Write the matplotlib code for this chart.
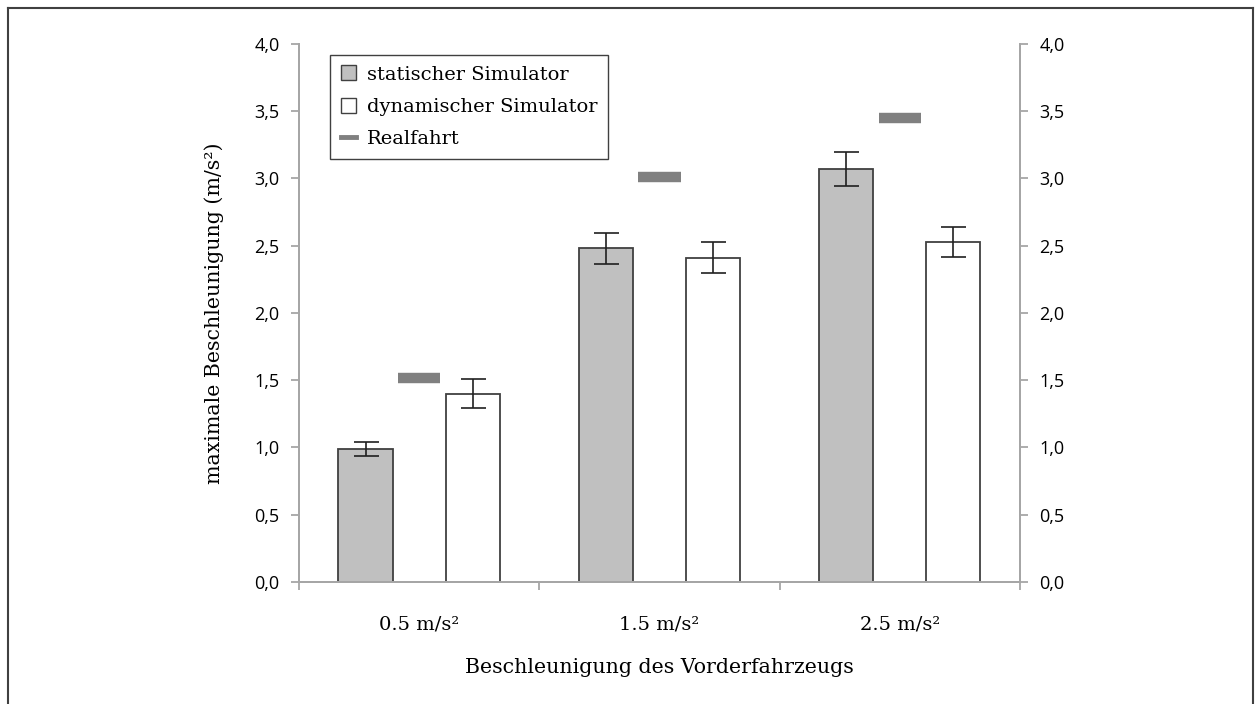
import numpy as np
import matplotlib.pyplot as plt
from matplotlib.lines import Line2D
from matplotlib.patches import Patch
from matplotlib.ticker import FuncFormatter

# Daten
kategorien = ['0.5 m/s²', '1.5 m/s²', '2.5 m/s²']
statisch = [0.99, 2.48, 3.07]
statisch_err = [0.05, 0.115, 0.125]
dynamisch = [1.40, 2.41, 2.53]
dynamisch_err = [0.11, 0.115, 0.11]
realfahrt = [1.52, 3.01, 3.45]

serif = 'DejaVu Serif'
sans = 'Open Sans'
achse = '#a6a6a6'

fig = plt.figure(figsize=(12.55, 7.04), dpi=100)
ax = fig.add_axes([0.2382, 0.1733, 0.5745, 0.7642])

x = np.arange(len(kategorien))
b = 0.225
off = 0.223

ax.bar(x - off, statisch, b, color='#c0c0c0', edgecolor='#404040', linewidth=1.3, zorder=2)
ax.bar(x + off, dynamisch, b, color='white', edgecolor='#404040', linewidth=1.3, zorder=2)
ax.errorbar(x - off, statisch, yerr=statisch_err, fmt='none', ecolor='#202020',
            elinewidth=1.2, capsize=9, capthick=1.2, zorder=3)
ax.errorbar(x + off, dynamisch, yerr=dynamisch_err, fmt='none', ecolor='#202020',
            elinewidth=1.2, capsize=9, capthick=1.2, zorder=3)
ax.hlines(realfahrt, x - 0.088, x + 0.088, colors='#808080', linewidth=7.5, zorder=3)

ax.set_xlim(-0.5, 2.5)
ax.set_ylim(0, 4)
ax.set_yticks(np.arange(0, 4.01, 0.5))
fmt = FuncFormatter(lambda v, p: f'{v:.1f}'.replace('.', ','))
ax.yaxis.set_major_formatter(fmt)

ax.set_xticks(x)
ax.set_xticklabels(kategorien, fontfamily=serif, fontsize=14)
ax.set_xticks([-0.5, 0.5, 1.5, 2.5], minor=True)
ax.tick_params(axis='x', which='major', length=0, pad=24)
ax.tick_params(axis='x', which='minor', length=6, color=achse, width=1.3)
ax.tick_params(axis='y', length=6, color=achse, width=1.3, labelsize=13, pad=8)
for t in ax.get_yticklabels():
    t.set_fontfamily(sans)

ax2 = ax.twinx()
ax2.set_ylim(0, 4)
ax2.set_yticks(np.arange(0, 4.01, 0.5))
ax2.yaxis.set_major_formatter(fmt)
ax2.tick_params(axis='y', length=6, color=achse, width=1.3, labelsize=13, pad=8)
for t in ax2.get_yticklabels():
    t.set_fontfamily(sans)

for a in (ax, ax2):
    a.spines['top'].set_visible(False)
    for s in ('left', 'right', 'bottom'):
        a.spines[s].set_color(achse)
        a.spines[s].set_linewidth(1.3)

ax.set_ylabel('maximale Beschleunigung (m/s²)', fontfamily=serif, fontsize=14.8, labelpad=22)
ax.set_xlabel('Beschleunigung des Vorderfahrzeugs', fontfamily=serif, fontsize=14.8, labelpad=18)

handles = [Patch(facecolor='#c0c0c0', edgecolor='#404040'),
           Patch(facecolor='white', edgecolor='#404040'),
           Line2D([0], [0], color='#808080', linewidth=3.5)]
labels = ['statischer Simulator', 'dynamischer Simulator', 'Realfahrt']
leg = ax.legend(handles, labels, loc='upper left', bbox_to_anchor=(0.03, 0.998),
                prop={'family': serif, 'size': 14}, fancybox=False, edgecolor='#404040',
                framealpha=1, handlelength=0.75, handleheight=0.8, handletextpad=0.6,
                labelspacing=0.72, borderpad=0.55)
leg.get_frame().set_linewidth(1.0)

# Rahmen um die Grafik
rand = dict(color='#404040', linewidth=1.5, transform=fig.transFigure)
fig.add_artist(Line2D([8/1255, 8/1255], [0, 1 - 8/704], **rand))
fig.add_artist(Line2D([8/1255, 1253/1255], [1 - 8/704, 1 - 8/704], **rand))
fig.add_artist(Line2D([1253/1255, 1253/1255], [0, 1 - 8/704], **rand))

fig.savefig('out.png', dpi=100)
